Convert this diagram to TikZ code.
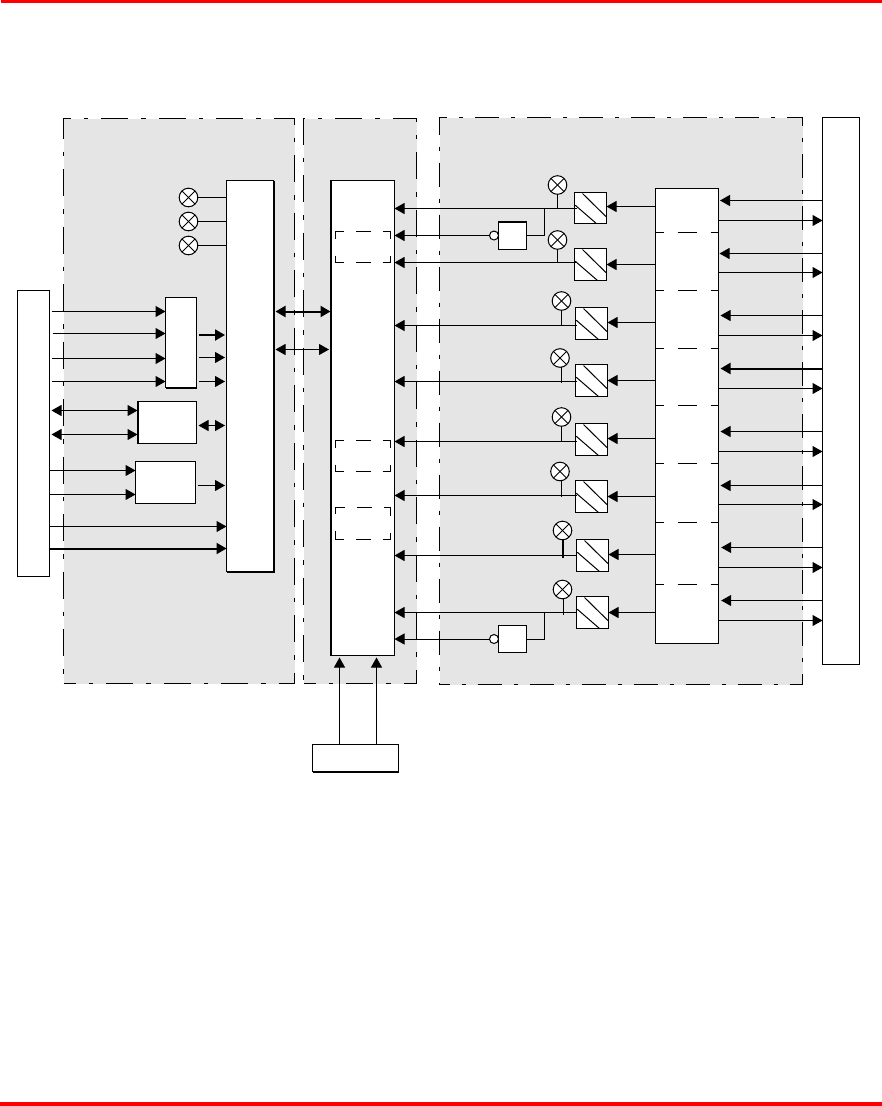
\documentclass[tikz,border=0pt]{standalone}
\usepackage{tikz}
\usetikzlibrary{arrows.meta,calc}

\begin{document}
\begin{tikzpicture}[
  x=1pt,y=-1pt,
  >={Triangle[length=10pt,width=11pt]},
  line/.style={draw=black,line width=1pt},
  heavy/.style={draw=black,line width=2pt},
  arr/.style={->,draw=black,line width=1pt},
  thickarr/.style={->,draw=black,line width=2pt},
  dbl/.style={<->,draw=black,line width=1pt},
  gapped/.style={shorten <=2pt,shorten >=1.5pt},
  box/.style={rectangle,draw=black,line width=1pt,fill=white,inner sep=0pt,outer sep=0pt,anchor=north west},
  panel/.style={rectangle,draw=black,line width=1pt,fill=black!10,inner sep=0pt,outer sep=0pt,anchor=north west,
    dash pattern=on 27pt off 13pt on 4.5pt off 13pt,dash phase=15pt},
  inset/.style={rectangle,draw=black,line width=1pt,inner sep=0pt,outer sep=0pt,anchor=north west,
    minimum width=55pt,minimum height=31pt,
    dash pattern=on 15pt off 12pt on 15pt off 12pt on 15pt off 17pt,dash phase=7pt},
  divider/.style={draw=black,line width=1pt,dash pattern=on 8pt off 14pt on 19pt off 14pt},
  lamp/.style={circle,draw=black,line width=1pt,fill=white,minimum size=18.6pt,inner sep=0pt,outer sep=0pt,
    path picture={
      \draw[line] (path picture bounding box.north west) -- (path picture bounding box.south east);
      \draw[line] (path picture bounding box.south west) -- (path picture bounding box.north east);
    }},
  hatch/.style={box,minimum width=32pt,minimum height=32pt,
    path picture={
      \draw[line] ($(path picture bounding box.north west)+(0.7,12.7)$) -- ($(path picture bounding box.north west)+(23,32)$);
      \draw[line] ($(path picture bounding box.north west)+(8,1)$) -- ($(path picture bounding box.north west)+(31.4,24)$);
    }},
  bubble/.style={circle,draw=black,line width=1pt,fill=white,minimum size=9pt,inner sep=0pt,outer sep=0pt}
]

\useasboundingbox (0,0) rectangle (882,1106);

% ---------------- page rules ----------------
\fill[red] (1,0) rectangle (882,3);
\fill[red] (0,1102) rectangle (882,1106);

% ---------------- shaded panels ----------------
\node[panel,minimum width=231pt,minimum height=565pt] (panelA) at (63.5,118.5) {};
\node[panel,minimum width=113pt,minimum height=565pt] (panelB) at (303.5,118.5) {};
\node[panel,minimum width=363pt,minimum height=567pt,dash pattern=on 24pt off 12pt on 4pt off 12pt,dash phase=14pt] (panelC) at (439.5,117.5) {};

% ---------------- outer and main blocks ----------------
\node[box,minimum width=32pt,minimum height=286pt] (source) at (17.5,290.5) {};
\node[box,minimum width=37pt,minimum height=547pt] (sink) at (822.5,117.5) {};
\node[box,minimum width=47pt,minimum height=391pt] (mainA) at (226.5,180.5) {};
\node[box,minimum width=64pt,minimum height=475pt] (mainB) at (330.5,180.5) {};
\node[box,minimum width=63pt,minimum height=455pt] (bank) at (655.5,188.5) {};
\node[box,minimum width=86pt,minimum height=27pt] (clock) at (312.5,744.5) {};

\draw[heavy] (mainA.north east) -- (mainA.south east) -- (mainA.south west);
\draw[heavy] (mainB.north west) -- (mainB.south west);
\draw[heavy] (clock.south west) -- (clock.south east);

% ---------------- left side blocks ----------------
\node[box,minimum width=31pt,minimum height=90pt] (inA) at (165.5,297.5) {};
\node[box,minimum width=59pt,minimum height=42pt] (inB) at (137.5,401.5) {};
\node[box,minimum width=60pt,minimum height=42pt,line width=1.6pt] (inC) at (135.5,461.5) {};
\draw[heavy] (inA.south west) -- (inA.south east);
\draw[heavy] (inB.north west) -- (inB.south west);

\node[lamp] (lampA) at (188.5,197.5) {};
\node[lamp] (lampB) at (188.5,221.5) {};
\node[lamp] (lampC) at (188.5,245.5) {};
\draw[line] (lampA.east) -- (mainA.west |- lampA.east);
\draw[line] (lampB.east) -- (mainA.west |- lampB.east);
\draw[line] (lampC.east) -- (mainA.west |- lampC.east);

\draw[arr] ([xshift=2pt]source.east |- 0,311.5) -- (inA.west |- 0,311.5);
\draw[arr] ([xshift=3pt]source.east |- 0,333.5) -- (inA.west |- 0,333.5);
\draw[arr] ([xshift=2pt]source.east |- 0,358.5) -- (inA.west |- 0,358.5);
\draw[arr] ([xshift=2pt]source.east |- 0,381.5) -- (inA.west |- 0,381.5);

\draw[thickarr,gapped] (inA.east |- 0,335) -- (mainA.west |- 0,335);
\draw[arr,gapped] (inA.east |- 0,357.5) -- (mainA.west |- 0,357.5);
\draw[arr,gapped] (inA.east |- 0,381.5) -- (mainA.west |- 0,381.5);

\draw[dbl,shorten <=2pt] (source.east |- 0,410.5) -- (inB.west |- 0,410.5);
\draw[dbl,shorten <=2pt] (source.east |- 0,434.5) -- (inB.west |- 0,434.5);
\draw[dbl,gapped] (inB.east |- 0,425.5) -- (mainA.west |- 0,425.5);

\draw[arr] (source.east |- 0,470.5) -- (inC.west |- 0,470.5);
\draw[arr] (source.east |- 0,494.5) -- (inC.west |- 0,494.5);
\draw[arr,gapped] (inC.east |- 0,485.5) -- (mainA.west |- 0,485.5);

\draw[arr] (source.east |- 0,526.5) -- (mainA.west |- 0,526.5);
\draw[thickarr] (source.east |- 0,548.5) -- (mainA.west |- 0,548.5);

% ---------------- between the main blocks ----------------
\draw[<->,draw=black,line width=2pt,shorten <=2pt] (mainA.east |- 0,311.5) -- (mainB.west |- 0,311.5);
\draw[dbl,gapped] (mainA.east |- 0,349.5) -- (mainB.west |- 0,349.5);

\node[inset] (insetA) at (335.5,231.5) {};
\node[inset] (insetB) at (335.5,440.5) {};
\node[inset,minimum height=32pt] (insetC) at (335.5,507.5) {};

\draw[arr,shorten >=2pt] (339.5,0 |- clock.north) -- (339.5,0 |- mainB.south);
\draw[arr,shorten >=2pt] (376.5,0 |- clock.north) -- (376.5,0 |- mainB.south);

% ---------------- converters and inverters ----------------
\node[hatch,minimum height=31pt] (convA) at (574.5,192.5) {};
\node[hatch] (convB) at (574.5,248.5) {};
\node[hatch] (convC) at (575.5,307.5) {};
\node[hatch] (convD) at (575.5,364.5) {};
\node[hatch] (convE) at (575.5,423.5) {};
\node[hatch] (convF) at (575.5,480.5) {};
\node[hatch] (convG) at (576.5,539.5) {};
\node[hatch] (convH) at (576.5,596.5) {};

\node[box,minimum width=28pt,minimum height=28pt] (notA) at (498.5,221.5) {};
\node[box,minimum width=28pt,minimum height=27pt] (notB) at (498.5,625.5) {};
\node[bubble] (bubA) at (494,235.5) {};
\node[bubble] (bubB) at (494,639) {};
\draw[heavy] (notA.north west) -- (notA.north east);

\coordinate (tapA) at (544.5,208.5);
\coordinate (tapB) at (544.5,612.5);
\draw[line] (notA.east) -- (notA.east -| tapA) -- (tapA);
\draw[line] (notB.east) -- (notB.east -| tapB) -- (tapB);
\draw[arr] (bubA.west) -- (mainB.east |- bubA.west);
\draw[arr] (bubB.west) -- (mainB.east |- bubB.west);

\draw[arr] ([xshift=2.5pt]convA.west |- 0,208.5) -- (mainB.east |- 0,208.5);
\draw[arr] ([xshift=2.5pt]convB.west |- 0,262.5) -- (mainB.east |- 0,262.5);
\draw[arr] ([xshift=1.5pt]convC.west |- 0,325.5) -- (mainB.east |- 0,325.5);
\draw[arr] ([xshift=1.5pt]convD.west |- 0,381.5) -- (mainB.east |- 0,381.5);
\draw[arr] ([xshift=1.5pt]convE.west |- 0,441.5) -- (mainB.east |- 0,441.5);
\draw[arr] ([xshift=1.5pt]convF.west |- 0,495.5) -- (mainB.east |- 0,495.5);
\draw[arr] (convG.west |- 0,555.5) -- (mainB.east |- 0,555.5);
\draw[arr] (convH.west |- 0,612.5) -- (mainB.east |- 0,612.5);

\node[lamp] (lampD) at (557.5,185) {};
\node[lamp] (lampE) at (557.5,240) {};
\node[lamp] (lampF) at (561.5,301) {};
\node[lamp] (lampG) at (560,358) {};
\node[lamp] (lampH) at (561.5,417) {};
\node[lamp] (lampI) at (560,471.5) {};
\node[lamp] (lampJ) at (562.5,530.5) {};
\node[lamp] (lampK) at (562.5,589.5) {};

\draw[line] (lampD.south) -- (lampD.south |- 0,208.5);
\draw[line] (lampE.south) -- (lampE.south |- 0,262.5);
\draw[line] (lampF.south) -- (lampF.south |- 0,325.5);
\draw[line] ([xshift=1.5pt]lampG.south) -- ([xshift=1.5pt]lampG.south |- 0,382.5);
\draw[line] (lampH.south) -- (lampH.south |- 0,441.5);
\draw[line] ([xshift=1.5pt]lampI.south) -- ([xshift=1.5pt]lampI.south |- 0,496.5);
\draw[heavy] (lampJ.south) -- (lampJ.south |- 0,557.5);
\draw[line] ([xshift=1pt]lampK.south) -- ([xshift=1pt]lampK.south |- 0,614.5);

% ---------------- bank to converters ----------------
\draw[arr] (bank.west |- 0,206.5) -- (convA.east |- 0,206.5);
\draw[arr] (bank.west |- 0,264.5) -- (convB.east |- 0,264.5);
\draw[arr] (bank.west |- 0,322.5) -- (convC.east |- 0,322.5);
\draw[arr] (bank.west |- 0,380.5) -- (convD.east |- 0,380.5);
\draw[arr] (bank.west |- 0,438.5) -- (convE.east |- 0,438.5);
\draw[arr] (bank.west |- 0,496.5) -- (convF.east |- 0,496.5);
\draw[arr] (bank.west |- 0,554.5) -- (convG.east |- 0,554.5);
\draw[arr] (bank.west |- 0,612.5) -- (convH.east |- 0,612.5);

\draw[divider] (bank.west |- 0,232.5) -- (bank.east |- 0,232.5);
\draw[divider] (bank.west |- 0,290.5) -- (bank.east |- 0,290.5);
\draw[divider] (bank.west |- 0,348.5) -- (bank.east |- 0,348.5);
\draw[divider] (bank.west |- 0,405.5) -- (bank.east |- 0,405.5);
\draw[divider] (bank.west |- 0,463.5) -- (bank.east |- 0,463.5);
\draw[divider] (bank.west |- 0,522.5) -- (bank.east |- 0,522.5);
\draw[divider] (bank.west |- 0,584.5) -- (bank.east |- 0,584.5);

% ---------------- bank and right block ----------------
\draw[arr,shorten >=1.5pt] (sink.west |- 0,200.5) -- (bank.east |- 0,200.5);
\draw[arr,shorten >=1pt] (sink.west |- 0,253.5) -- (bank.east |- 0,253.5);
\draw[arr,shorten >=2pt] (sink.west |- 0,315.5) -- (bank.east |- 0,315.5);
\draw[thickarr,shorten >=2pt] (sink.west |- 0,368.5) -- (bank.east |- 0,368.5);
\draw[arr,shorten >=2pt] (sink.west |- 0,431.5) -- (bank.east |- 0,431.5);
\draw[arr,shorten >=2pt] (sink.west |- 0,485.5) -- (bank.east |- 0,485.5);
\draw[arr,shorten >=2.7pt] (sink.west |- 0,547.5) -- (bank.east |- 0,547.5);
\draw[arr,shorten >=2.7pt] (sink.west |- 0,600.5) -- (bank.east |- 0,600.5);

\draw[arr] (bank.east |- 0,220.5) -- (sink.west |- 0,220.5);
\draw[arr] (bank.east |- 0,272.5) -- (sink.west |- 0,272.5);
\draw[arr] (bank.east |- 0,335.5) -- (sink.west |- 0,335.5);
\draw[arr] (bank.east |- 0,388.5) -- (sink.west |- 0,388.5);
\draw[arr] (bank.east |- 0,451.5) -- (sink.west |- 0,451.5);
\draw[arr] (bank.east |- 0,504.5) -- (sink.west |- 0,504.5);
\draw[arr] (bank.east |- 0,567.5) -- (sink.west |- 0,567.5);
\draw[arr] (bank.east |- 0,620.5) -- (sink.west |- 0,620.5);

\end{tikzpicture}
\end{document}
